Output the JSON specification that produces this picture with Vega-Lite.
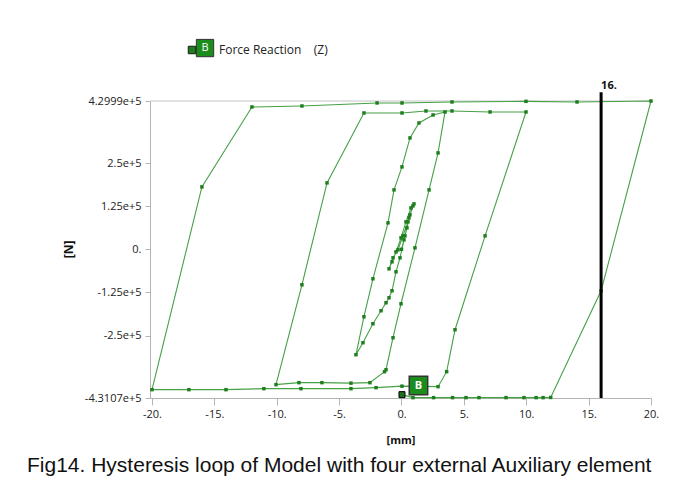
{
  "$schema": "https://vega.github.io/schema/vega-lite/v6.json",
  "width": 501,
  "height": 297,
  "autosize": {"type": "none"},
  "padding": {"left": 150, "top": 101, "right": 33, "bottom": 104},
  "background": "white",
  "config": {"view": {"stroke": null}, "font": "Open Sans"},
  "title": {
    "text": "Fig14. Hysteresis loop of Model with four external Auxiliary element",
    "orient": "bottom", "anchor": "start", "frame": "group",
    "font": "Liberation Sans", "fontSize": 21, "fontWeight": "normal",
    "color": "#111111", "dx": -123, "offset": 10
  },
  "datasets": {
    "loop": [
      {"o": 1, "x": 0.0, "y": 0},
      {"o": 2, "x": 0.2, "y": 27512},
      {"o": 3, "x": 0.44, "y": 62264},
      {"o": 4, "x": 0.68, "y": 99912},
      {"o": 5, "x": 1.0, "y": 131768},
      {"o": 6, "x": 0.76, "y": 120184},
      {"o": 7, "x": 0.36, "y": 79640},
      {"o": 8, "x": -0.04, "y": 33304},
      {"o": 9, "x": -0.44, "y": -7240},
      {"o": 10, "x": -0.76, "y": -36200},
      {"o": 11, "x": -1.0, "y": -56472},
      {"o": 12, "x": -0.68, "y": -24616},
      {"o": 13, "x": -0.28, "y": -1448},
      {"o": 14, "x": 0.12, "y": 39096},
      {"o": 15, "x": 0.52, "y": 79640},
      {"o": 16, "x": 0.92, "y": 125976},
      {"o": 17, "x": 0.6, "y": 91224},
      {"o": 18, "x": 0.28, "y": 39096},
      {"o": 19, "x": -0.12, "y": -24616},
      {"o": 20, "x": -0.44, "y": -65160},
      {"o": 21, "x": -0.76, "y": -120184},
      {"o": 22, "x": -1.0, "y": -140456},
      {"o": 23, "x": -1.24, "y": -154936},
      {"o": 24, "x": -1.64, "y": -178104},
      {"o": 25, "x": -2.29, "y": -215752},
      {"o": 26, "x": -3.09, "y": -270776},
      {"o": 27, "x": -3.65, "y": -305528},
      {"o": 28, "x": -3.01, "y": -195480},
      {"o": 29, "x": -2.29, "y": -85432},
      {"o": 30, "x": -1.08, "y": 76744},
      {"o": 31, "x": -0.6, "y": 172312},
      {"o": 32, "x": 0.04, "y": 238920},
      {"o": 33, "x": 0.68, "y": 322904},
      {"o": 34, "x": 1.4, "y": 366344},
      {"o": 35, "x": 2.53, "y": 389512},
      {"o": 36, "x": 3.49, "y": 398200},
      {"o": 37, "x": 2.93, "y": 279464},
      {"o": 38, "x": 2.21, "y": 172312},
      {"o": 39, "x": 1.08, "y": 4344},
      {"o": 40, "x": -0.04, "y": -157832},
      {"o": 41, "x": -0.68, "y": -256296},
      {"o": 42, "x": -1.24, "y": -348968},
      {"o": 43, "x": -1.36, "y": -354760},
      {"o": 44, "x": -2.53, "y": -386616},
      {"o": 45, "x": -4.05, "y": -388064},
      {"o": 46, "x": -6.38, "y": -386616},
      {"o": 47, "x": -8.22, "y": -386616},
      {"o": 48, "x": -10.06, "y": -392408},
      {"o": 49, "x": -7.98, "y": -102808},
      {"o": 50, "x": -5.97, "y": 192584},
      {"o": 51, "x": -3.01, "y": 395304},
      {"o": 52, "x": 0.04, "y": 395304},
      {"o": 53, "x": 1.96, "y": 401096},
      {"o": 54, "x": 4.05, "y": 401096},
      {"o": 55, "x": 7.1, "y": 398200},
      {"o": 56, "x": 9.98, "y": 398200},
      {"o": 57, "x": 6.7, "y": 39096},
      {"o": 58, "x": 4.29, "y": -233128},
      {"o": 59, "x": 3.62, "y": -354760},
      {"o": 60, "x": 2.93, "y": -398200},
      {"o": 61, "x": 0.04, "y": -396752},
      {"o": 62, "x": -2.04, "y": -401096},
      {"o": 63, "x": -4.05, "y": -404000},
      {"o": 64, "x": -8.06, "y": -404000},
      {"o": 65, "x": -11.03, "y": -404000},
      {"o": 66, "x": -14.07, "y": -406896},
      {"o": 67, "x": -17.04, "y": -406896},
      {"o": 68, "x": -20.0, "y": -406896},
      {"o": 69, "x": -16.0, "y": 181000},
      {"o": 70, "x": -11.99, "y": 412680},
      {"o": 71, "x": -7.98, "y": 415576},
      {"o": 72, "x": -1.96, "y": 424264},
      {"o": 73, "x": 0.04, "y": 424264},
      {"o": 74, "x": 4.05, "y": 427160},
      {"o": 75, "x": 9.98, "y": 429000},
      {"o": 76, "x": 14.07, "y": 427160},
      {"o": 77, "x": 20.0, "y": 429990},
      {"o": 78, "x": 16.0, "y": -120184},
      {"o": 79, "x": 11.96, "y": -429500},
      {"o": 80, "x": 11.35, "y": -430000},
      {"o": 81, "x": 10.79, "y": -430000},
      {"o": 82, "x": 9.82, "y": -430000},
      {"o": 83, "x": 8.38, "y": -430000},
      {"o": 84, "x": 6.21, "y": -430000},
      {"o": 85, "x": 5.17, "y": -430000},
      {"o": 86, "x": 4.09, "y": -430000},
      {"o": 87, "x": 2.57, "y": -430000},
      {"o": 88, "x": 0.92, "y": -430000},
      {"o": 89, "x": 0.04, "y": -421368}
    ]
  },
  "layer": [
    {
      "data": {"values": [{}]},
      "mark": {"type": "rule", "color": "#c4c4c4", "strokeWidth": 1},
      "encoding": {
        "y": {"datum": 429990, "type": "quantitative"}
      }
    },
    {
      "data": {"name": "loop"},
      "mark": {"type": "line", "color": "#46a046", "strokeWidth": 1.1},
      "encoding": {
        "x": {
          "field": "x", "type": "quantitative",
          "scale": {"domain": [-20.16, 20.0], "nice": false, "zero": false},
          "axis": {
            "values": [-20, -15, -10, -5, 0, 5, 10, 15, 20],
            "labelExpr": "datum.value + '.'",
            "title": "[mm]", "titleFontWeight": "bold", "titleFontSize": 11, "titleColor": "#111111",
            "titleY": 42, "titleBaseline": "middle",
            "grid": false, "domainColor": "#b4b4b4", "tickColor": "#b4b4b4", "tickSize": 7,
            "labelFontSize": 11, "labelColor": "#222222", "labelPadding": 3, "labelFlush": false, "labelOverlap": false
          }
        },
        "y": {
          "field": "y", "type": "quantitative",
          "scale": {"domain": [-431070, 429990], "nice": false, "zero": false},
          "axis": {
            "values": [-431070, -250000, -125000, 0, 125000, 250000, 429990],
            "labelExpr": "datum.value == 429990 ? '4.2999e+5' : datum.value == 250000 ? '2.5e+5' : datum.value == 125000 ? '1.25e+5' : datum.value == 0 ? '0.' : datum.value == -125000 ? '-1.25e+5' : datum.value == -250000 ? '-2.5e+5' : '-4.3107e+5'",
            "title": "[N]", "titleFontWeight": "bold", "titleFontSize": 12, "titleColor": "#111111",
            "titleX": -82, "titleY": 148, "titleAngle": 270, "titleBaseline": "middle", "titleAlign": "center",
            "grid": false, "domainColor": "#b4b4b4", "tickColor": "#b4b4b4", "tickSize": 5,
            "labelFontSize": 11, "labelColor": "#222222", "labelPadding": 4, "labelFlush": false, "labelOverlap": false
          }
        },
        "order": {"field": "o", "type": "quantitative"}
      }
    },
    {
      "data": {"name": "loop"},
      "mark": {"type": "point", "shape": "square", "filled": true, "size": 12, "opacity": 1},
      "encoding": {
        "x": {"field": "x", "type": "quantitative"},
        "y": {"field": "y", "type": "quantitative"},
        "color": {
          "datum": "Force Reaction\u00a0\u00a0\u00a0\u00a0(Z)",
          "scale": {"range": ["#1e7e1e"]},
          "legend": {
            "title": null, "orient": "none", "legendX": 36, "legendY": -57,
            "symbolType": "square", "symbolSize": 56, "symbolFillColor": "#1e7e1e",
            "symbolStrokeColor": "#1a1a1a", "symbolStrokeWidth": 1,
            "labelOffset": 21, "labelFontSize": 12, "labelColor": "#222222", "labelFont": "Open Sans",
            "labelLimit": 300, "padding": 0, "offset": 0
          }
        }
      }
    },
    {
      "data": {"values": [{}]},
      "mark": {"type": "rule", "color": "#000000", "strokeWidth": 3},
      "encoding": {
        "x": {"datum": 16, "type": "quantitative"},
        "y": {"datum": 455000, "type": "quantitative"},
        "y2": {"datum": -431070}
      }
    },
    {
      "data": {"values": [{}]},
      "mark": {"type": "text", "fontWeight": "bold", "fontSize": 11, "color": "#111111", "align": "left", "dx": 0, "baseline": "middle"},
      "encoding": {
        "x": {"datum": 16, "type": "quantitative"},
        "y": {"datum": 473500, "type": "quantitative"},
        "text": {"value": "16."}
      }
    },
    {
      "data": {"values": [{}]},
      "mark": {"type": "point", "shape": "square", "filled": true, "size": 36, "color": "#1e6e1e", "stroke": "#000000", "strokeWidth": 1, "opacity": 1},
      "encoding": {
        "x": {"datum": 0.04, "type": "quantitative"},
        "y": {"datum": -421368, "type": "quantitative"}
      }
    },
    {
      "data": {"values": [{}]},
      "mark": {"type": "point", "shape": "square", "filled": true, "size": 340, "color": "#1c8c1c", "stroke": "#333333", "strokeWidth": 1.5, "opacity": 1},
      "encoding": {
        "x": {"datum": 1.36, "type": "quantitative"},
        "y": {"datum": -395000, "type": "quantitative"}
      }
    },
    {
      "data": {"values": [{}]},
      "mark": {"type": "text", "fontWeight": "bold", "fontSize": 11, "color": "#ffffff", "align": "center", "baseline": "middle"},
      "encoding": {
        "x": {"datum": 1.36, "type": "quantitative"},
        "y": {"datum": -395000, "type": "quantitative"},
        "text": {"value": "B"}
      }
    },
    {
      "data": {"values": [{}]},
      "mark": {"type": "point", "shape": "square", "filled": true, "size": 300, "color": "#1c8c1c", "stroke": "#333333", "strokeWidth": 1, "opacity": 1},
      "encoding": {
        "x": {"datum": -15.75, "type": "quantitative"},
        "y": {"datum": 583500, "type": "quantitative"}
      }
    },
    {
      "data": {"values": [{}]},
      "mark": {"type": "text", "fontSize": 11, "color": "#ffffff", "align": "center", "baseline": "middle"},
      "encoding": {
        "x": {"datum": -15.75, "type": "quantitative"},
        "y": {"datum": 583500, "type": "quantitative"},
        "text": {"value": "B"}
      }
    }
  ]
}
